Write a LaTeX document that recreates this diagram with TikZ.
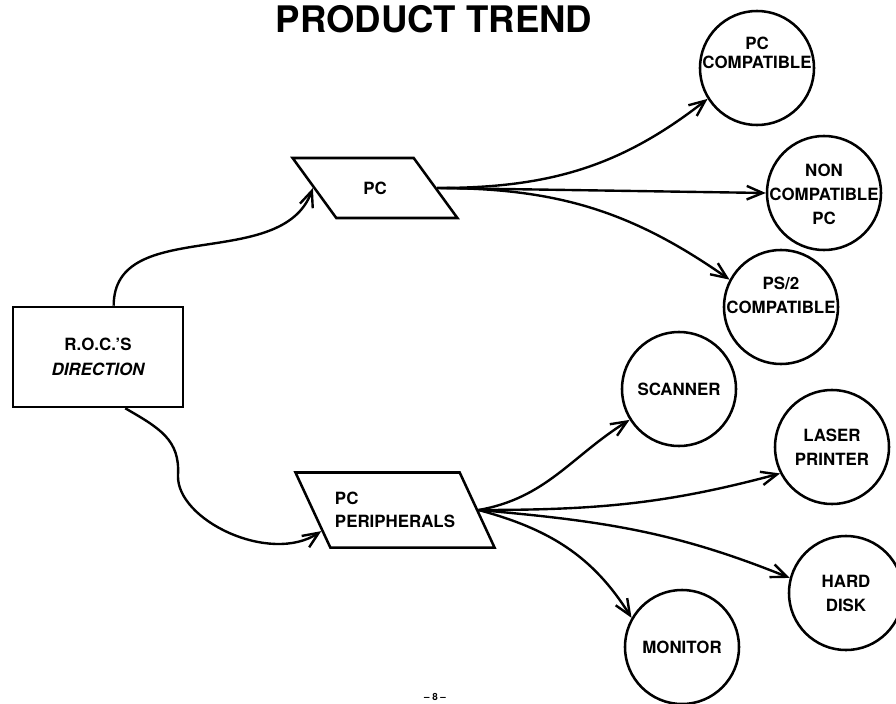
\documentclass[tikz,border=0pt]{standalone}
\usepackage{fontspec}
\setmainfont{TeX Gyre Heros}
\usetikzlibrary{arrows.meta, shapes.geometric}
\tikzset{
	box/.style={rectangle, draw, line width=1.8pt, minimum width=4.25cm, minimum height=2.5cm, align=center, font=\bfseries\fontsize{12}{18}\selectfont},
	slant/.style={trapezium, trapezium stretches=true, draw, line width=1.8pt, align=left, font=\bfseries\fontsize{12}{16}\selectfont},
	bubble/.style={circle, draw, line width=1.8pt, minimum size=2.85cm, inner sep=0pt, align=center, font=\bfseries\fontsize{12}{17}\selectfont},
	bubtext/.style={align=center, inner sep=0pt, font=\bfseries\fontsize{12}{17}\selectfont},
	arrow/.style={-{Straight Barb[length=4mm, width=3.4mm]}, line width=1.7pt},
}

\begin{document}
\begin{tikzpicture}[x=0.025cm, y=0.025cm]
		\useasboundingbox (0,0) rectangle (896,-704);
		\node[font=\bfseries\fontsize{26}{30}\selectfont] (title) at (434,-19) {PRODUCT TREND};
		\node[box] (roc) at (98,-357) {R.O.C.'S\\\itshape DIRECTION};
		\node[slant, trapezium left angle=130, trapezium right angle=50, minimum width=4.125cm, minimum height=1.5cm] (pc) at (375,-188) {PC};
		\node[slant, trapezium left angle=128, trapezium right angle=52, minimum width=4.9cm, minimum height=1.875cm] (periph) at (395,-510) {PC\\PERIPHERALS};
		% computer branch
		\node[bubble] (pccompat) at (757,-68) {};
		\node[bubtext] (pccompat-t) at (757,-53) {PC\\[-3pt]COMPATIBLE};
		\node[bubble] (noncompat) at (824,-193) {};
		\node[bubtext] (noncompat-t) at (824,-194) {NON\\COMPATIBLE\\PC};
		\node[bubble] (ps2compat) at (781,-307) {};
		\node[bubtext] (ps2compat-t) at (781,-295) {PS/2\\COMPATIBLE};
		% peripheral branch
		\node[bubble] (scanner) at (679,-389) {SCANNER};
		\node[bubble] (laser) at (832,-447) {LASER\\PRINTER};
		\node[bubble] (harddisk) at (846,-593) {HARD\\DISK};
		\node[bubble] (monitor) at (682,-647) {MONITOR};
		\node[font=\bfseries\fontsize{7}{8}\selectfont] (page) at (435,-697) {-- 8 --};
		\coordinate (dip) at (178,-475);
		\draw[arrow] (roc.73) to[out=90, in=250] (pc.west);
		\draw[arrow] (roc.-62) .. controls +(-30:40) and (180,-440) .. (dip) .. controls (176,-520) and (270,-565) .. (periph.196);
		\draw[arrow] (pc.east) to[out=0, in=218] (pccompat.212);
		\draw[arrow] (pc.east) -- (noncompat.west);
		\draw[arrow] (pc.east) to[out=0, in=145] (ps2compat.152);
		\draw[arrow] (periph.east) to[out=10, in=212] (scanner.212);
		\draw[arrow] (periph.east) to[out=0, in=195] (laser.207);
		\draw[arrow] (periph.east) to[out=-5, in=158] (harddisk.165);
		\draw[arrow] (periph.east) to[out=-15, in=122] (monitor.150);
	\end{tikzpicture}
\end{document}
